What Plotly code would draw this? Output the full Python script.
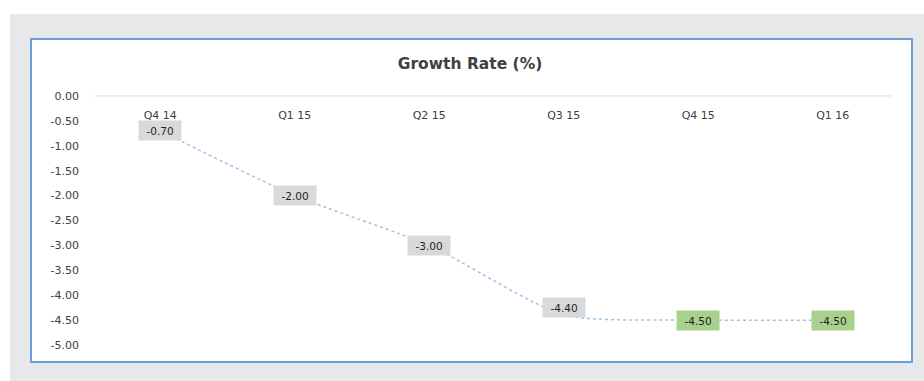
import plotly.graph_objects as go

# Quarterly growth rate series
quarters = ["Q4 14", "Q1 15", "Q2 15", "Q3 15", "Q4 15", "Q1 16"]
growth = [-0.70, -2.00, -3.00, -4.40, -4.50, -4.50]
label_fill = ["#d9d9d9", "#d9d9d9", "#d9d9d9", "#d9d9d9", "#a9d18e", "#a9d18e"]
y_ticks = [0.0, -0.5, -1.0, -1.5, -2.0, -2.5, -3.0, -3.5, -4.0, -4.5, -5.0]

W, H = 924, 381
ML, MR, MT, MB = 93, 24, 91, 36
PW, PH = W - ML - MR, H - MT - MB
FONT = "DejaVu Sans"

fig = go.Figure()
fig.add_trace(go.Scatter(
    x=quarters, y=growth, mode="lines",
    line=dict(color="#9dc3e6", width=1.5, dash="dot", shape="spline", smoothing=0.6),
    hoverinfo="skip", showlegend=False,
))

# Value labels with filled boxes
for q, v, c in zip(quarters, growth, label_fill):
    fig.add_annotation(
        x=q, y=v, text=f"{v:.2f}", showarrow=False,
        bgcolor=c, width=40, height=17, borderpad=1,
        font=dict(family=FONT, size=10.5, color="#1f1f1f"),
        yshift=8 if v == -4.40 else 0,
    )

def frame(x0, y0, x1, y1):
    # pixel box -> paper (plot-area) fractions
    return dict(x0=(x0 - ML) / PW, x1=(x1 - ML) / PW,
                y0=(H - MB - y1) / PH, y1=(H - MB - y0) / PH)

shapes = [
    dict(type="rect", xref="paper", yref="paper", layer="below",
         fillcolor="#e7e8ea", line=dict(width=0), **frame(10, 14, 926, 383)),
    dict(type="rect", xref="paper", yref="paper", layer="below",
         fillcolor="#ffffff", line=dict(color="#6a9fd8", width=2), **frame(31, 39, 912, 362)),
    # horizontal rule at zero
    dict(type="line", xref="paper", yref="y", layer="below",
         x0=(95 - ML) / PW, x1=(891 - ML) / PW, y0=0, y1=0,
         line=dict(color="#d9d9d9", width=1)),
]

fig.update_layout(
    width=W, height=H,
    margin=dict(l=ML, r=MR, t=MT, b=MB),
    paper_bgcolor="#ffffff", plot_bgcolor="rgba(0,0,0,0)",
    shapes=shapes,
    title=dict(text="<b>Growth Rate (%)</b>", x=470 / W, xanchor="center",
               y=1 - 64 / H, yanchor="middle",
               font=dict(family=FONT, size=15.5, color="#404040")),
    xaxis=dict(
        side="top", anchor="free", position=(H - MB - 121) / PH,
        showline=False, showgrid=False, zeroline=False, ticks="",
        range=[-0.5, 5.5],
        tickfont=dict(family=FONT, size=11, color="#404040"),
    ),
    yaxis=dict(
        range=[-5.0, 0.1], tickvals=y_ticks,
        ticktext=[f"{t:.2f}" for t in y_ticks],
        showgrid=False, showline=False, ticks="", zeroline=False,
        ticklabelstandoff=13,
        tickfont=dict(family=FONT, size=11, color="#404040"),
    ),
)

fig.write_html("out.html")
